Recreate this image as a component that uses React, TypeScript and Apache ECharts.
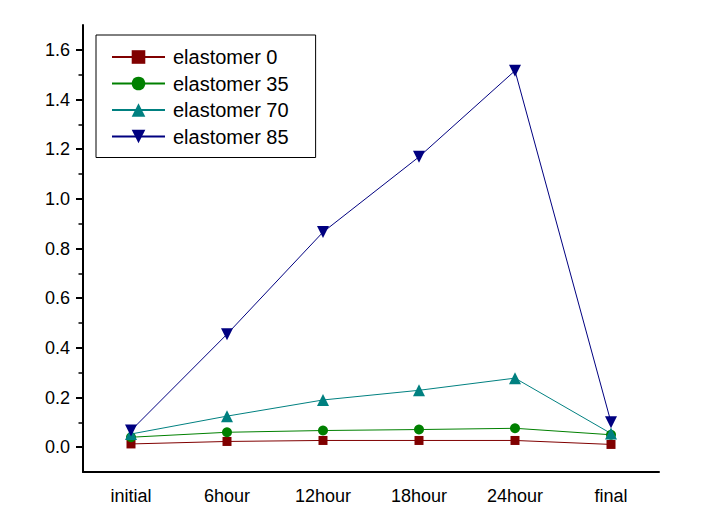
import React, { useEffect, useRef } from "react";
import * as echarts from "echarts";

const categories = ["initial", "6hour", "12hour", "18hour", "24hour", "final"];
const elastomer0 = [0.013, 0.023, 0.027, 0.027, 0.027, 0.011];
const elastomer35 = [0.04, 0.06, 0.067, 0.071, 0.076, 0.05];
const elastomer70 = [0.053, 0.125, 0.19, 0.229, 0.278, 0.055];
const elastomer85 = [0.067, 0.455, 0.866, 1.169, 1.516, 0.1];
const yMajorTicks = [0, 0.2, 0.4, 0.6, 0.8, 1.0, 1.2, 1.4, 1.6];
const yMinorTicks = [0.1, 0.3, 0.5, 0.7, 0.9, 1.1, 1.3, 1.5];

const FONT = "'Liberation Sans', Arial, sans-serif";

export default function App() {
  const ref = useRef<HTMLDivElement>(null);
  useEffect(() => {
    if (!ref.current) return;
    const chart = echarts.init(ref.current, null, { renderer: "svg" });
    const mk = (name: string, data: number[], color: string, symbol: string, size: number, rotate = 0) => ({
      name,
      type: "line",
      data,
      xAxisIndex: 0,
      yAxisIndex: 0,
      symbol,
      symbolSize: size,
      symbolRotate: rotate,
      showAllSymbol: true,
      lineStyle: { color, width: 1 },
      itemStyle: { color },
    });
    chart.setOption({
      animation: false,
      backgroundColor: "#ffffff",
      textStyle: { fontFamily: FONT },
      grid: { left: 83, right: 57, top: 25, bottom: 37 },
      legend: {
        orient: "vertical",
        left: 96,
        top: 35,
        padding: [12, 27, 11, 15],
        borderColor: "#000",
        borderWidth: 1,
        itemWidth: 53,
        itemHeight: 17,
        itemGap: 6.5,
        textStyle: { fontSize: 20, color: "#000", fontFamily: FONT, lineHeight: 20, padding: [0, 0, 0, 3] },
        data: ["elastomer 0", "elastomer 35", "elastomer 70", "elastomer 85"],
      },
      xAxis: [
        {
          type: "category",
          data: categories,
          boundaryGap: true,
          position: "bottom",
          axisLine: { onZero: false, lineStyle: { color: "#000", width: 2 } },
          axisTick: { alignWithLabel: true, length: 8, lineStyle: { color: "#000", width: 2 } },
          axisLabel: { fontSize: 18, color: "#000", margin: 15, fontFamily: FONT },
          splitLine: { show: false },
        },
        {
          type: "category",
          data: categories,
          boundaryGap: true,
          position: "bottom",
          axisLine: { show: false, onZero: false },
          axisTick: { alignWithLabel: false, length: 5, lineStyle: { color: "#000", width: 1.5 } },
          axisLabel: { show: false },
          splitLine: { show: false },
        },
      ],
      yAxis: [
        {
          type: "value",
          min: -0.1,
          max: 1.7,
          position: "left",
          axisLine: { show: true, onZero: false, lineStyle: { color: "#000", width: 2 } },
          axisTick: { show: true, length: 7, customValues: yMajorTicks, lineStyle: { color: "#000", width: 2 } },
          axisLabel: {
            fontSize: 18,
            color: "#000",
            margin: 13,
            fontFamily: FONT,
            customValues: yMajorTicks,
            formatter: (v: number) => v.toFixed(1),
          },
          splitLine: { show: false },
        },
        {
          type: "value",
          min: -0.1,
          max: 1.7,
          position: "left",
          offset: 0,
          axisLine: { show: false, onZero: false },
          axisTick: { show: true, length: 4.5, customValues: yMinorTicks, lineStyle: { color: "#000", width: 1.5 } },
          axisLabel: { show: false },
          splitLine: { show: false },
        },
      ],
      series: [
        mk("elastomer 0", elastomer0, "#800000", "rect", 9),
        mk("elastomer 35", elastomer35, "#008000", "circle", 10),
        mk("elastomer 70", elastomer70, "#008080", "triangle", 12),
        mk("elastomer 85", elastomer85, "#000080", "triangle", 12, 180),
      ],
    });
    return () => chart.dispose();
  }, []);
  return (
    <div
      ref={ref}
      style={{ position: "fixed", left: 0, top: 0, width: 716, height: 509, background: "#fff" }}
    />
  );
}
